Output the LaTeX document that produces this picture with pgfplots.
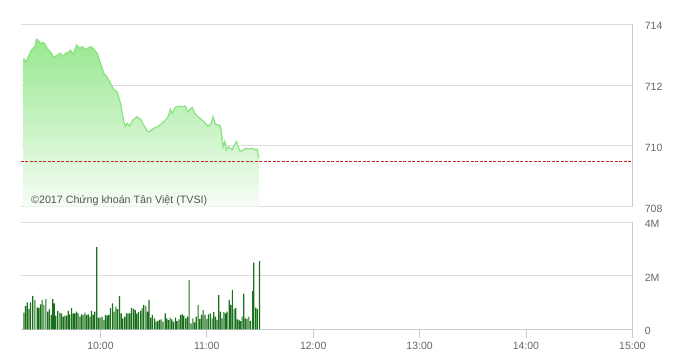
\documentclass[border=0pt]{standalone}
\usepackage{fontspec}
\setmainfont{Liberation Sans}
\usepackage{pgfplots}
\usepackage{pgfplotstable}
\pgfplotsset{compat=1.18}
\definecolor{gridc}{RGB}{221,221,221}
\definecolor{axc}{RGB}{200,205,212}
\definecolor{labc}{RGB}{102,102,102}
\definecolor{txtc}{RGB}{85,85,85}
\definecolor{lineg}{RGB}{138,226,128}
\definecolor{filltop}{RGB}{152,232,144}
\definecolor{fillbot}{RGB}{246,253,245}
\definecolor{volg}{RGB}{26,112,26}
\definecolor{refred}{RGB}{200,40,40}

\pgfplotstableread{
m v
16.7 712.88
17.7 712.77
18.6 712.83
20.5 713.10
21.8 713.21
23.0 713.26
23.9 713.51
24.9 713.48
26.2 713.37
27.5 713.40
28.6 713.37
29.9 713.21
31.8 713.10
33.7 712.91
35.6 712.99
37.4 713.05
39.0 712.94
40.3 713.05
41.8 713.07
43.1 713.15
44.6 713.01
46.5 713.32
48.3 713.21
49.6 713.26
51.5 713.18
53.4 713.23
54.8 713.26
56.2 713.18
58.1 713.05
60.0 712.72
61.9 712.39
63.8 712.26
65.6 712.06
67.5 711.86
69.4 711.78
71.3 711.40
73.1 710.80
74.1 710.65
75.1 710.74
76.4 710.65
77.9 710.83
80.7 710.96
82.6 710.87
84.4 710.69
86.3 710.49
87.6 710.47
90.1 710.58
92.9 710.65
95.7 710.80
97.6 710.91
98.5 711.02
99.5 711.20
100.4 711.07
102.3 711.27
104.2 711.31
106.1 711.29
107.9 711.31
109.2 711.12
111.7 711.27
113.2 711.07
115.4 710.94
118.3 710.80
120.5 710.65
122.4 710.72
123.5 710.96
124.8 710.72
127.7 710.66
129.2 709.97
130.1 710.14
131.0 709.87
132.3 709.97
134.2 709.87
135.1 709.97
136.6 710.14
138.0 709.92
138.9 709.81
140.8 709.87
141.8 709.92
143.6 709.90
145.5 709.92
147.4 709.87
148.4 709.89
149.3 709.59
}\price

\pgfplotstableread{
m v
16.7 708
16.7 712.88
17.7 712.77
18.6 712.83
20.5 713.10
21.8 713.21
23.0 713.26
23.9 713.51
24.9 713.48
26.2 713.37
27.5 713.40
28.6 713.37
29.9 713.21
31.8 713.10
33.7 712.91
35.6 712.99
37.4 713.05
39.0 712.94
40.3 713.05
41.8 713.07
43.1 713.15
44.6 713.01
46.5 713.32
48.3 713.21
49.6 713.26
51.5 713.18
53.4 713.23
54.8 713.26
56.2 713.18
58.1 713.05
60.0 712.72
61.9 712.39
63.8 712.26
65.6 712.06
67.5 711.86
69.4 711.78
71.3 711.40
73.1 710.80
74.1 710.65
75.1 710.74
76.4 710.65
77.9 710.83
80.7 710.96
82.6 710.87
84.4 710.69
86.3 710.49
87.6 710.47
90.1 710.58
92.9 710.65
95.7 710.80
97.6 710.91
98.5 711.02
99.5 711.20
100.4 711.07
102.3 711.27
104.2 711.31
106.1 711.29
107.9 711.31
109.2 711.12
111.7 711.27
113.2 711.07
115.4 710.94
118.3 710.80
120.5 710.65
122.4 710.72
123.5 710.96
124.8 710.72
127.7 710.66
129.2 709.97
130.1 710.14
131.0 709.87
132.3 709.97
134.2 709.87
135.1 709.97
136.6 710.14
138.0 709.92
138.9 709.81
140.8 709.87
141.8 709.92
143.6 709.90
145.5 709.92
147.4 709.87
148.4 709.89
149.3 709.59
149.3 708
}\pricefill

\pgfplotstableread{
m v
16.8 0.62
17.7 0.87
18.7 1.01
19.6 0.76
20.5 1.01
21.8 1.25
23.0 1.10
24.3 0.82
25.2 0.79
26.2 0.93
27.1 1.10
28.1 0.91
29.2 1.13
30.3 0.66
31.2 0.75
32.2 0.54
33.1 1.13
33.9 0.97
34.8 0.51
35.9 0.69
37.1 0.62
38.0 0.60
39.0 0.47
39.9 0.51
40.8 0.51
41.8 0.69
42.7 0.56
43.7 0.79
44.6 0.60
45.5 0.60
46.5 0.66
47.4 0.60
48.4 0.47
49.3 0.56
50.2 0.54
51.2 0.62
52.1 0.54
53.1 0.56
54.0 0.47
54.9 0.69
55.9 0.54
56.8 0.66
57.9 3.07
58.9 0.44
59.8 0.44
60.9 0.47
61.9 0.35
62.8 0.54
63.8 0.51
64.7 0.54
65.6 0.79
66.8 0.97
67.7 0.66
68.7 0.85
69.6 0.75
70.7 1.25
71.7 0.60
72.6 0.41
73.7 0.47
74.7 0.60
75.6 0.60
76.5 0.60
77.5 0.79
78.6 0.76
79.6 0.72
80.5 0.59
81.4 0.64
82.6 0.69
83.5 0.79
84.4 0.91
85.6 0.88
86.5 0.66
87.4 1.10
88.4 0.44
89.3 0.54
90.5 0.41
91.4 0.29
92.3 0.31
93.3 0.35
94.2 0.37
95.3 0.29
96.5 0.60
97.4 0.41
98.4 0.34
99.3 0.44
100.2 0.37
101.2 0.29
102.3 0.44
103.2 0.31
104.2 0.37
105.1 0.54
106.1 0.56
107.0 0.51
108.1 0.41
109.1 0.47
110.0 1.84
111.1 0.22
112.1 0.41
113.0 0.26
114.0 0.47
115.1 0.91
116.0 0.39
117.0 0.54
117.9 0.72
119.0 0.54
120.0 0.39
120.9 0.56
122.0 0.60
123.0 0.41
123.9 0.64
124.9 0.47
125.8 0.35
126.7 1.28
127.7 0.66
128.6 0.41
129.6 0.64
130.5 0.60
131.4 0.66
132.6 1.10
133.5 0.91
134.4 1.47
135.4 0.76
136.3 0.79
137.3 0.37
138.2 0.35
139.0 0.31
139.9 0.47
140.8 1.32
141.8 0.41
142.7 0.39
143.7 0.47
144.6 0.31
145.9 1.43
146.5 2.49
147.6 0.81
148.5 0.75
149.7 2.55
}\vol

\begin{document}
\begin{tikzpicture}
\pgfplotsset{
  common/.style={
    scale only axis, width=611.6bp, xmin=15, xmax=360,
    anchor=south west,
    /pgf/number format/assume math mode=true,
    tick label style={font=\fontsize{10.5bp}{12bp}\selectfont, text=labc},
    grid style={draw=gridc, line width=0.8bp},
    ymajorgrids,
    axis y line*=right,
    y axis line style={draw=axc, line width=0.8bp},
    ytick style={draw=none},
    yticklabel style={anchor=west, xshift=9bp, yshift=-2bp},
  }
}
\begin{axis}[common, height=182.4bp, at={(20.7bp,146.3bp)},
  ymin=708, ymax=714, ytick={708,710,712,714},
  axis x line=none]
\addplot[draw=none, top color=filltop, bottom color=fillbot] table {\pricefill};
\addplot[draw=lineg, line width=1.2bp, no marks] table {\price};
\addplot[draw=refred, line width=0.9bp, dash pattern=on 3bp off 1.5bp, no marks] coordinates {(15,709.5) (360,709.5)};
\node[anchor=base west, font=\fontsize{10.7bp}{12bp}\selectfont, text=txtc, inner sep=0pt] at (rel axis cs:0.0168,0.02) {©2017 Chứng khoán Tân Việt (TVSI)};
\end{axis}

\begin{axis}[common, height=107bp, at={(20.7bp,23.7bp)},
  ymin=0, ymax=4, ytick={0,2,4}, yticklabels={0,2M,4M},
  axis x line*=bottom, x axis line style={draw=axc, line width=0.8bp},
  xtick={60,120,180,240,300,360},
  xticklabels={10:00,11:00,12:00,13:00,14:00,15:00},
  xtick align=outside, xtick style={draw=axc, line width=0.8bp},
  major tick length=9bp]
\addplot[ybar, bar width=0.65, fill=volg, draw=none] table {\vol};
\end{axis}
\pgfresetboundingbox
\path[use as bounding box] (0,0) rectangle (683bp,353bp);
\end{tikzpicture}
\end{document}
